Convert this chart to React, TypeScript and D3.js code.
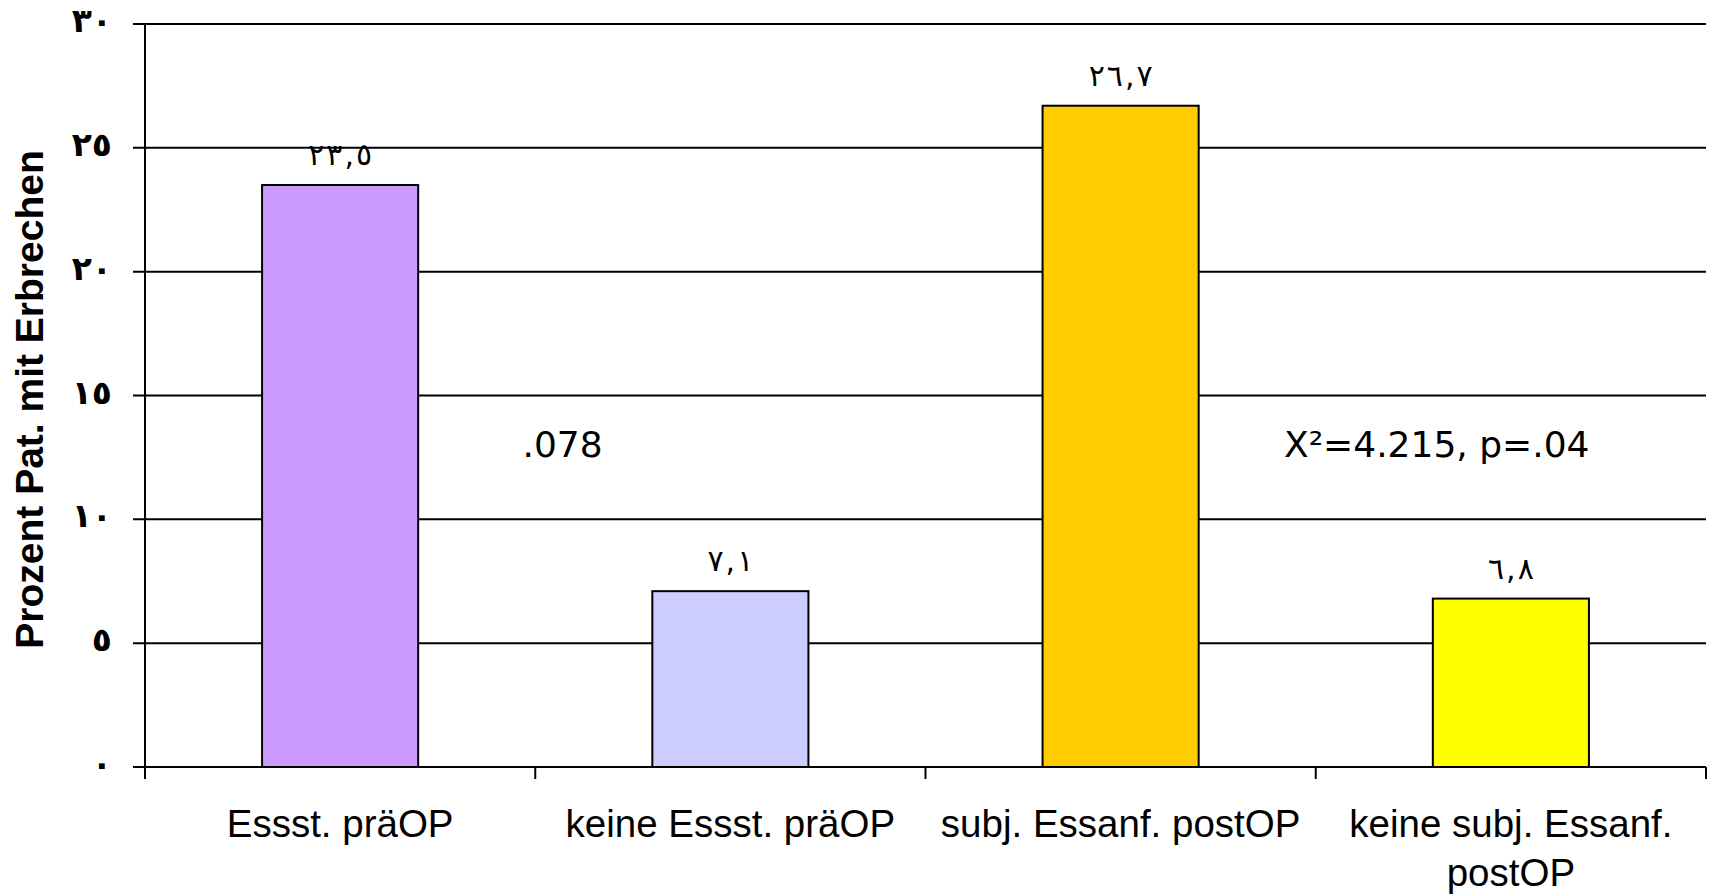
import * as d3 from "d3";

const categories = [
  "Essst. präOP",
  "keine Essst. präOP",
  "subj. Essanf. postOP",
  "keine subj. Essanf. postOP",
];
const categoryLines = [
  ["Essst. präOP"],
  ["keine Essst. präOP"],
  ["subj. Essanf. postOP"],
  ["keine subj. Essanf.", "postOP"],
];
const values = [23.5, 7.1, 26.7, 6.8];
const valueLabels = ["٢٣,٥", "٧,١", "٢٦,٧", "٦,٨"];
const barColors = ["#CC99FF", "#CCCCFF", "#FFCC00", "#FFFF00"];
const yTicks = [0, 5, 10, 15, 20, 25, 30];
const yTickLabels = ["٠", "٥", "١٠", "١٥", "٢٠", "٢٥", "٣٠"];
const yTitle = "Prozent Pat. mit Erbrechen";
// annotations: [category position, value, text]
const notes: [number, number, string][] = [
  [1.07, 12.5, ".078"],
  [3.31, 12.5, "X²=4.215, p=.04"],
];

const width = 1711;
const height = 894;
const marginLeft = 145;
const marginRight = 5;
const marginTop = 24;
const marginBottom = 127;

export default function App() {
  const x = d3
    .scaleBand()
    .domain(categories)
    .range([marginLeft, width - marginRight])
    .paddingInner(0.6)
    .paddingOuter(0.3);
  // continuous position along the category axis (0..4) for ticks and notes
  const xPos = d3
    .scaleLinear()
    .domain([0, categories.length])
    .range([marginLeft, width - marginRight]);
  const y = d3
    .scaleLinear()
    .domain([0, 30])
    .range([height - marginBottom, marginTop]);

  const y0 = y(0);

  return (
    <svg
      width={width}
      height={height}
      style={{ position: "absolute", left: 0, top: 0, background: "#fff" }}
    >
      {/* gridlines + left tick marks */}
      {yTicks.map((t, i) => (
        <g key={t}>
          <line
            x1={marginLeft - 12}
            x2={width - marginRight}
            y1={y(t)}
            y2={y(t)}
            stroke="#000"
            strokeWidth={2}
          />
          <text
            x={112}
            y={y(t) + 8}
            textAnchor="end"
            fontFamily="DejaVu Sans"
            fontWeight="bold"
            fontSize={33}
            direction="ltr"
          >
            {yTickLabels[i]}
          </text>
        </g>
      ))}
      {/* y axis line */}
      <line
        x1={marginLeft}
        x2={marginLeft}
        y1={marginTop}
        y2={y0 + 12}
        stroke="#000"
        strokeWidth={2}
      />
      {/* category ticks */}
      {d3.range(categories.length + 1).map((i) => (
        <line
          key={i}
          x1={xPos(i)}
          x2={xPos(i)}
          y1={y0}
          y2={y0 + 12}
          stroke="#000"
          strokeWidth={2}
        />
      ))}
      {/* bars */}
      {categories.map((c, i) => (
        <g key={c}>
          <rect
            x={x(c)}
            y={y(values[i])}
            width={x.bandwidth()}
            height={y0 - y(values[i])}
            fill={barColors[i]}
            stroke="#000"
            strokeWidth={2}
          />
          <text
            x={(x(c) ?? 0) + x.bandwidth() / 2}
            y={y(values[i]) - 20}
            textAnchor="middle"
            fontFamily="DejaVu Sans"
            fontSize={30}
            direction="ltr"
          >
            {Array.from(valueLabels[i]).map((ch, k) => (
              <tspan key={k} dx={k ? 2 : 0}>
                {ch}
              </tspan>
            ))}
          </text>
        </g>
      ))}
      {/* category labels */}
      {categoryLines.map((lines, i) => (
        <text
          key={i}
          x={(x(categories[i]) ?? 0) + x.bandwidth() / 2}
          y={y0 + 70}
          textAnchor="middle"
          fontFamily="Liberation Sans, Arial, sans-serif"
          fontSize={38.5}
        >
          {lines.map((l, j) => (
            <tspan
              key={j}
              x={(x(categories[i]) ?? 0) + x.bandwidth() / 2}
              dy={j === 0 ? 0 : 49}
            >
              {l}
            </tspan>
          ))}
        </text>
      ))}
      {/* annotations */}
      {notes.map(([p, v, t]) => (
        <text
          key={t}
          x={xPos(p)}
          y={y(v)}
          textAnchor="middle"
          fontFamily="DejaVu Sans, Verdana, sans-serif"
          fontSize={36}
        >
          {t}
        </text>
      ))}
      {/* y axis title */}
      <text
        transform={`translate(43,${(marginTop + y0) / 2 + 4}) rotate(-90)`}
        textAnchor="middle"
        fontFamily="Liberation Sans, Arial, sans-serif"
        fontWeight="bold"
        fontSize={39}
      >
        {yTitle}
      </text>
    </svg>
  );
}
